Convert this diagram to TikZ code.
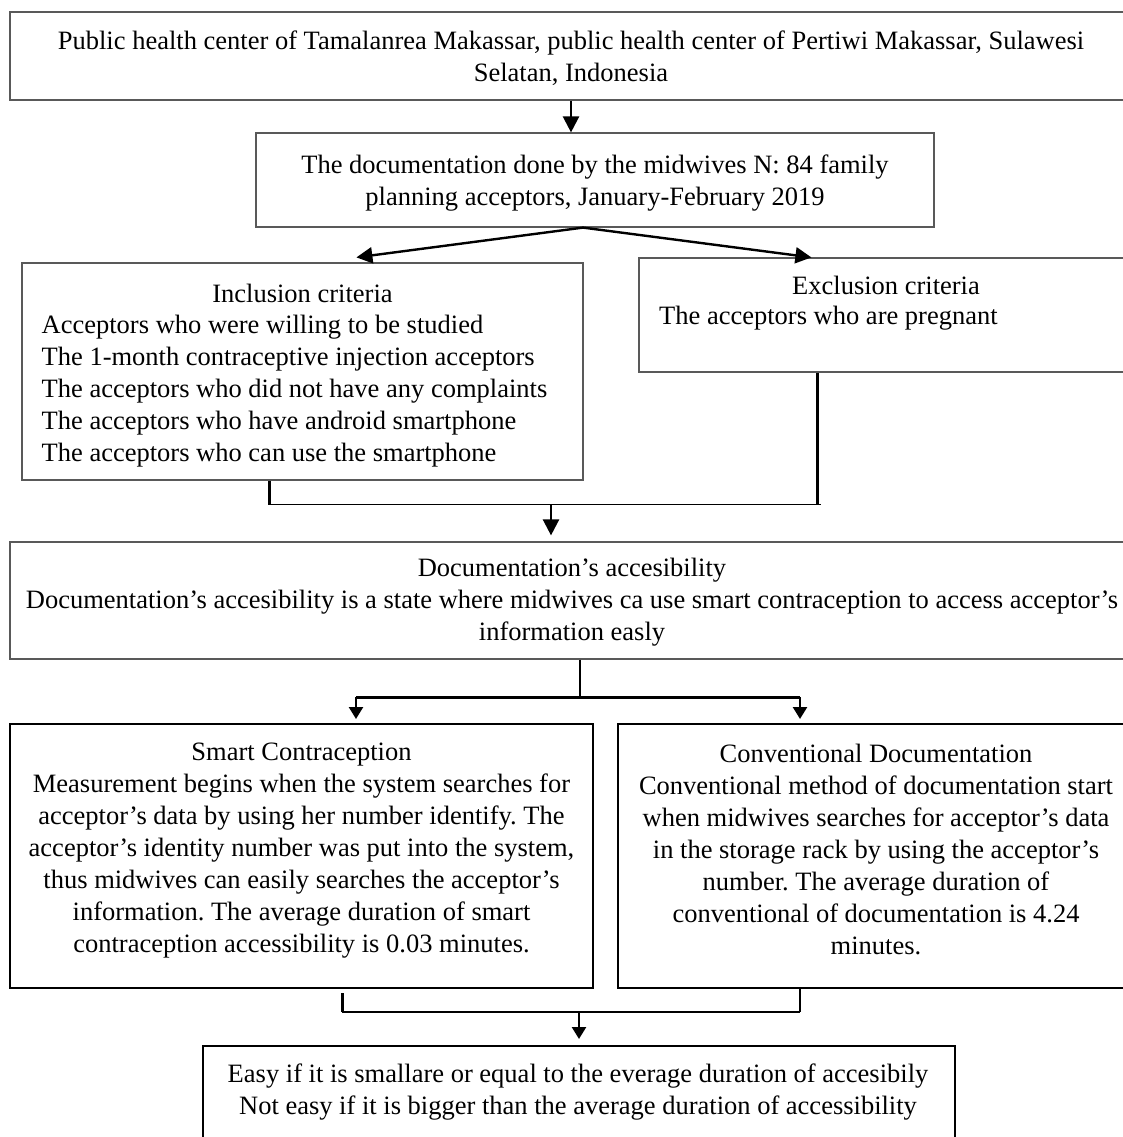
\documentclass[tikz,border=0pt]{standalone}
\usepackage{fontspec}
\setmainfont{Liberation Serif}
\usetikzlibrary{arrows.meta,fit,calc}
\frenchspacing
\tikzset{
  thinbox/.style={draw=black!65,line width=1.2pt,inner sep=0pt},
  thickbox/.style={draw=black,line width=2pt,inner sep=0pt},
  txt/.style={inner sep=0pt,font=\fontsize{26.5}{32}\selectfont,align=center},
  txtl/.style={inner sep=0pt,font=\fontsize{26.5}{32}\selectfont,align=left},
  arr/.style={line width=2.4pt,-{Triangle[length=16pt,width=16pt]}},
  arrs/.style={line width=2.4pt,-{Triangle[length=12pt,width=14pt]}},
  stem/.style={line width=2.6pt},
  bar/.style={line width=1.5pt},
}
\begin{document}
\begin{tikzpicture}[x=1pt,y=-1pt]
\useasboundingbox (0,0) rectangle (1123,1137);
\clip (0,0) rectangle (1123,1137);
\fill[white] (0,0) rectangle (1123,1137);

% boxes
\node[thinbox,fit={(10,12) (1140,100)}] (b1) {};
\node[txt] (t1) at (571,58.5) {Public health center of Tamalanrea Makassar, public health center of Pertiwi Makassar, Sulawesi\\Selatan, Indonesia};

\node[thinbox,fit={(256,133) (934,227)}] (b2) {};
\node[txt] (t2) at (595,183) {The documentation done by the midwives N: 84 family\\planning acceptors, January-February 2019};

\node[thinbox,fit={(22,263) (583,480)}] (inc) {};
\node[txt] (inct) at (302.5,293) {Inclusion criteria};
\node[txtl,anchor=west] (incl) at (41.5,391) {Acceptors who were willing to be studied\\The 1-month contraceptive injection acceptors\\The acceptors who did not have any complaints\\The acceptors who have android smartphone\\The acceptors who can use the smartphone};

\node[thinbox,fit={(639,258) (1140,372)}] (exc) {};
\node[txt] (exct) at (886,285) {Exclusion criteria};
\node[txtl,anchor=west] (excl) at (659,318) {The acceptors who are pregnant};

\node[thinbox,fit={(10,542) (1140,659)}] (doc) {};
\node[txt] (doct) at (572,602) {Documentation’s accesibility\\Documentation’s accesibility is a state where midwives ca use smart contraception to access acceptor’s\\information easly};

\node[thickbox,fit={(10,724) (593,988)}] (sc) {};
\node[txt] (sct) at (301.5,851) {Smart Contraception\\Measurement begins when the system searches for\\acceptor’s data by using her number identify. The\\acceptor’s identity number was put into the system,\\thus midwives can easily searches the acceptor’s\\information. The average duration of smart\\contraception accessibility is 0.03 minutes.};

\node[thickbox,fit={(618,724) (1140,988)}] (cd) {};
\node[txt] (cdt) at (876,849) {Conventional Documentation\\Conventional method of documentation start\\when midwives searches for acceptor’s data\\in the storage rack by using the acceptor’s\\number. The average duration of\\conventional of documentation is 4.24\\minutes.};

\node[thickbox,fit={(203,1046) (955,1160)}] (fin) {};
\node[txt] (fint) at (578,1092) {Easy if it is smallare or equal to the everage duration of accesibily\\Not easy if it is bigger than the average duration of accessibility};

% connectors
\draw[arr] (b1.south -| t1.center) -- (b2.north -| t1.center);

\coordinate (apex) at ($(b2.south)+(-12,0)$);
\coordinate (tipL) at ($(inc.north west)+(335,-5)$);
\coordinate (tipR) at ($(exc.north west)+(173,0)$);
\draw[arr] (apex) -- (tipL);
\draw[arr] (apex) -- (tipR);

\coordinate (j1) at ($(inc.south west)+(248,24)$);
\coordinate (j2) at ($(exc.south west)+(179,132)$);
\draw[stem] (inc.south -| j1) -- (j1);
\draw[stem] (exc.south -| j2) -- (j2);
\draw[bar] (j1) -- ($(j2)+(4,0)$);
\coordinate (m1) at (551,504);
\draw[arr] (m1) -- ($(doc.north -| m1)+(0,-6)$);

\coordinate (s1) at (580,697);
\coordinate (sL) at (356,697);
\coordinate (sR) at (800,697);
\draw[stem] (doc.south -| s1) -- (s1);
\draw[line width=3pt] (sL) -- (sR);
\draw[arrs] (sL) -- ($(sc.north -| sL)+(0,-4)$);
\draw[arrs] (sR) -- ($(cd.north -| sR)+(0,-4)$);

\coordinate (k1) at (342,1012);
\coordinate (k2) at (800,1012);
\draw[line width=3pt] ($(sc.south -| k1)+(0,4)$) -- (k1);
\draw[stem] (cd.south -| k2) -- (k2);
\draw[bar] (k1) -- (k2);
\coordinate (m2) at (579,1012);
\draw[arrs] (m2) -- ($(fin.north -| m2)+(0,-6)$);
\end{tikzpicture}
\end{document}
